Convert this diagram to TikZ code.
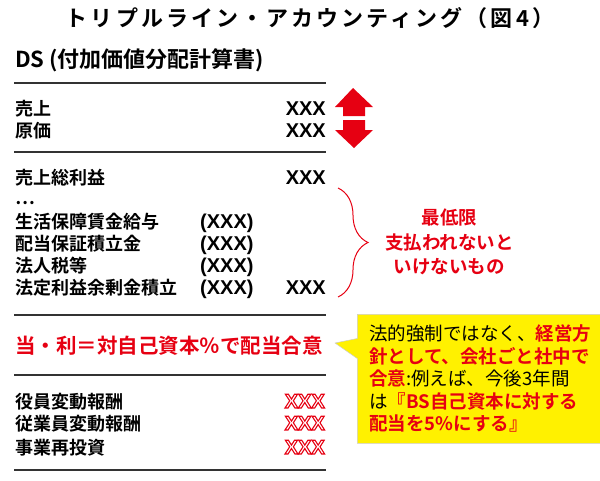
\documentclass[tikz,border=0pt]{standalone}
\usepackage{fontspec}
\usepackage{xcolor}
\setmainfont{Noto Sans CJK JP}[BoldFont={Noto Sans CJK JP Bold}]
\newfontfamily\latinfont{Liberation Sans}
\usetikzlibrary{positioning,shapes.callouts,decorations.pathreplacing}
\definecolor{jred}{HTML}{E60012}
\definecolor{jyellow}{HTML}{FFF100}
\definecolor{rulegray}{HTML}{333333}
\newcommand{\outlined}[1]{\special{pdf:code 1 Tr 1.1 w}#1\special{pdf:code 0 Tr 0.4 w}}
\begin{document}
\begin{tikzpicture}[x=1pt,y=-1pt,
		item/.style={anchor=base west,inner sep=0pt,font=\bfseries\fontsize{18}{18}\selectfont},
		amount/.style={anchor=base east,inner sep=0pt,font=\latinfont\bfseries\fontsize{20}{20}\selectfont},
		minus/.style={anchor=base west,inner sep=0pt,font=\latinfont\bfseries\fontsize{20}{20}\selectfont},
		rule/.style={draw=rulegray,line width=2.2pt},
		updown/.style={fill=jred,draw=none}]
					%\draw[help lines,step=20] (0,0) grid (600,480);
					\useasboundingbox (0,0) rectangle (600,480);
					
					\node[font=\bfseries\fontsize{22}{22}\selectfont\addfontfeature{LetterSpace=14}] (title) at (310,18) {トリプルライン・アカウンティング（図4）};
					\node[anchor=west,inner sep=0pt,font=\bfseries\fontsize{22}{22}\selectfont] (ds) at (15,60) {DS (付加価値分配計算書)};
					
					\foreach \y in {83,152,315,375,470}{\draw[rule] (14,\y) -- (326,\y);}
					
					\node[item] (sales) at (15,115) {売上};
					\node[item] (cost) at (15,137) {原価};
					\node[amount] (salesv) at (326,115) {XXX};
					\node[amount] (costv) at (326,137) {XXX};
					\fill[updown] (353,88) -- (373,107) -- (365,107) -- (365,116) -- (343,116) -- (343,107) -- (335,107) -- cycle;
					\fill[updown] (354,148) -- (373,130) -- (365,130) -- (365,120) -- (343,120) -- (343,130) -- (335,130) -- cycle;
					
					\node[item] (gross) at (15,184) {売上総利益};
					\node[amount] (grossv) at (326,184) {XXX};
					\node[item] (dots) at (15,204) {…};
					\node[item] (wage) at (15,228) {生活保障賃金給与};
					\node[item] (reserve) at (15,250) {配当保証積立金};
					\node[item] (tax) at (15,272) {法人税等};
					\node[item] (legal) at (15,294) {法定利益余剰金積立};
					\foreach \n/\y in {wage/228,reserve/250,tax/272,legal/294}{\node[minus] (\n v) at (200,\y) {(XXX)};}
					\node[amount] (legalv) at (326,294) {XXX};
					
					\draw[jred,line width=1pt,decorate,decoration={brace,amplitude=30pt}] (338,188) -- (338,297);
					\coordinate (tip) at (368,242);
					\node[right=17pt of tip,inner sep=0pt,align=center,text=jred,font=\bfseries\fontsize{18.5}{24.5}\selectfont] (must) {最低限\\支払われないと\\いけないもの};
					
					\node[item,text=jred,font=\bfseries\fontsize{20.5}{20.5}\selectfont] (policy) at (15,353) {当・利＝対自己資本％で配当合意};
					\node[rectangle callout,fill=jyellow,draw=black!20,line width=0.5pt,anchor=north west,
						inner xsep=12pt,inner ysep=8pt,minimum width=231pt,minimum height=129pt,align=left,
						font=\fontsize{18.5}{22.5}\selectfont,
						callout absolute pointer={(335,343)},callout pointer width=20pt] (note) at (357,314)
						{法的強制ではなく、\textcolor{jred}{\bfseries 経営方}\\
						\textcolor{jred}{\bfseries 針として、会社ごと社中で}\\
						\textcolor{jred}{\bfseries 合意}:例えば、今後3年間\\
						は\textcolor{jred}{\bfseries 『BS自己資本に対する}\\
						\textcolor{jred}{\bfseries 配当を5\%にする』}};
					
					\node[item] (pay1) at (15,408) {役員変動報酬};
					\node[item] (pay2) at (15,430) {従業員変動報酬};
					\node[item] (reinvest) at (15,454) {事業再投資};
					\foreach \n/\y in {pay1/408,pay2/430,reinvest/454}{\node[amount,text=jred] (\n v) at (325,\y) {\outlined{XXX}};}
				\end{tikzpicture}
\end{document}
